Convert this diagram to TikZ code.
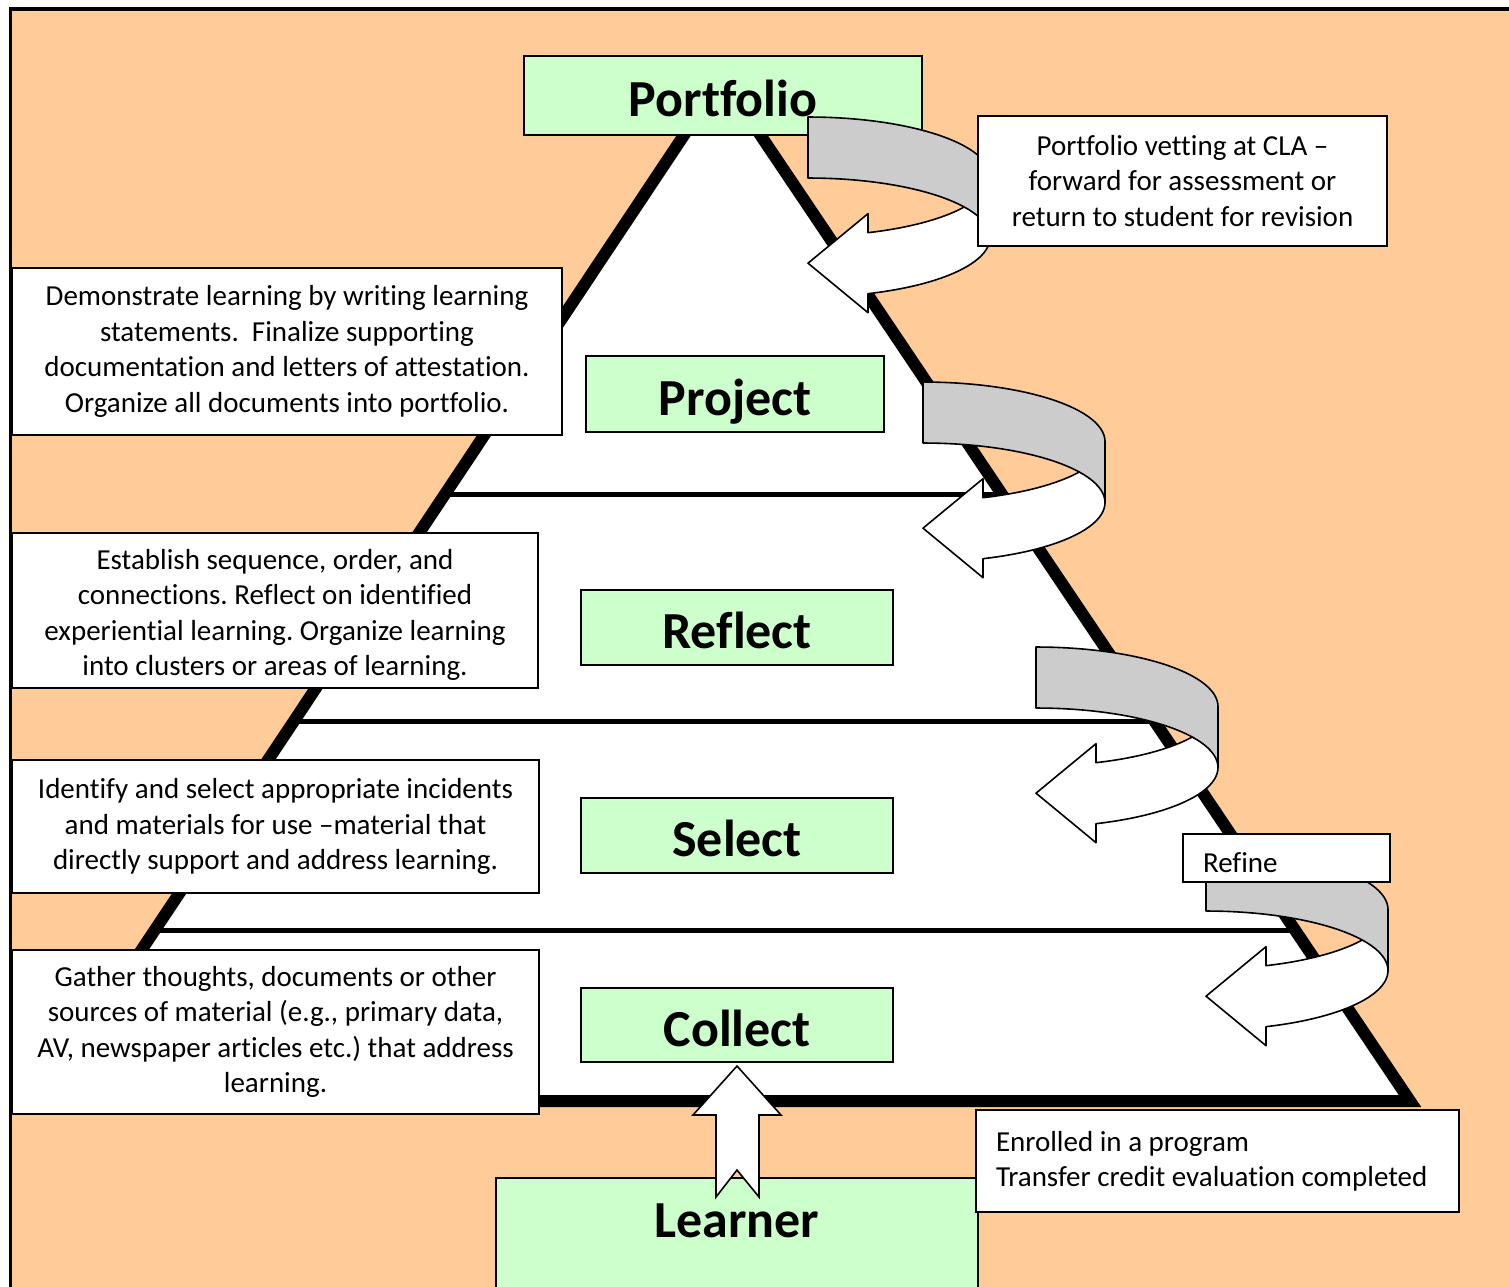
\documentclass[tikz,border=0pt]{standalone}
\usepackage{fontspec}
\setmainfont{Carlito}[Ligatures={NoCommon}]
\usetikzlibrary{calc}
\frenchspacing
\definecolor{peach}{HTML}{FFCC99}
\definecolor{mint}{HTML}{CCFFCC}
\definecolor{bandgray}{HTML}{CCCCCC}
\newcommand{\curvarrow}[2]{%
  \draw[arrowline, fill=white] plot[domain=0:70.75,samples=30] ({#1+182*cos(\x)},{#2+59.5+59.5*sin(\x)})
     -- (#1+60,#2+96.67) -- (#1,#2+146.17) -- (#1+60,#2+195.67)
     -- plot[domain=70.75:0,samples=30] ({#1+182*cos(\x)},{#2+120.5+59.5*sin(\x)}) -- cycle;
  \draw[arrowline, fill=bandgray] plot[domain=-90:0,samples=30] ({#1+182*cos(\x)},{#2+59.5+59.5*sin(\x)})
     -- plot[domain=0:-90,samples=30] ({#1+182*cos(\x)},{#2+120.5+59.5*sin(\x)}) -- cycle;
}
\begin{document}
\begin{tikzpicture}[x=1pt,y=-1pt,
  txt/.style={draw=black, line width=2pt, fill=white, font=\fontsize{29}{35.4}\selectfont, align=center, inner sep=0pt},
  ltxt/.style={draw=black, line width=2pt, fill=white, font=\fontsize{29}{35.4}\selectfont, align=flush left, inner xsep=20pt, inner ysep=0pt},
  lbl/.style={draw=black, line width=2pt, fill=mint, font=\fontsize{52}{60}\selectfont\bfseries, text height=42.5pt, text depth=0pt, inner sep=0pt},
  arrowline/.style={draw=black, line width=1.6pt, line join=round},
  blockarrow/.style={draw=black, line width=1.6pt, fill=white, line join=miter},
]
\useasboundingbox (0,0) rectangle (1509,1286);
% frame
\draw[line width=3.5pt, fill=peach] (10.5,9) rectangle (1530,1310);
% pyramid
\coordinate (apex) at (722,78);
\coordinate (bl) at (41,1101);
\coordinate (br) at (1410,1101);
\fill[white] (apex) -- (bl) -- (br) -- cycle;
\foreach \t in {0.4071,0.6290,0.8333}{
  \draw[line width=5.5pt] ($(apex)!\t!(bl)$) -- ($(apex)!\t!(br)$);
}
\draw[line width=12pt, line join=miter] (apex) -- (bl) -- (br) -- cycle;
% stage labels
\node[lbl, minimum width=398pt, minimum height=79pt] (portfolio) at (723,95.5) {Portfolio};
\node[lbl, minimum width=298pt, minimum height=76pt] (project) at (735,394) {Project};
\node[lbl, minimum width=312pt, minimum height=75pt] (reflect) at (737,627.5) {Reflect};
\node[lbl, minimum width=312pt, minimum height=75pt] (select) at (737,835.5) {Select};
\node[lbl, minimum width=312pt, minimum height=74pt] (collect) at (737,1025) {Collect};
\node[lbl, anchor=north, minimum width=482pt, text height=54pt, text depth=60pt, inner ysep=5pt] (learner) at (737,1177) {Learner};
% up block arrow from learner to collect
\coordinate (tip) at ($(collect.south)+(0,3)$);
\draw[blockarrow] (tip) -- ($(tip)+(44,49)$) -- ($(tip)+(22,49)$) -- ($(tip)+(22,131)$) -- ($(tip)+(0,104)$)
   -- ($(tip)+(-21,131)$) -- ($(tip)+(-21,49)$) -- ($(tip)+(-44,49)$) -- cycle;
% left description boxes
\node[txt, minimum width=550pt, minimum height=167pt] (demo) at (287,351.5)
  {Demonstrate learning by writing learning\\statements.\ \ Finalize supporting\\documentation and letters of attestation.\\Organize all documents into portfolio.};
\node[txt, minimum width=526pt, minimum height=155pt, text height=135pt] (establish) at (275,610.5)
  {Establish sequence, order, and\\connections. Reflect on identified\\experiential learning. Organize learning\\into clusters or areas of learning.};
\node[txt, minimum width=527pt, minimum height=133pt] (identify) at (275.5,826.5)
  {Identify and select appropriate incidents\\and materials for use –material that\\directly support and address learning.};
\node[txt, minimum width=527pt, minimum height=164pt] (gather) at (275.5,1032)
  {Gather thoughts, documents or other\\sources of material (e.g., primary data,\\AV, newspaper articles etc.) that address\\learning.};
% curved arrows
\curvarrow{808}{117}
\curvarrow{923}{382}
\curvarrow{1036}{647}
\curvarrow{1206}{850}
% right boxes
\node[txt, minimum width=409pt, minimum height=130pt] (vetting) at (1182.5,181)
  {Portfolio vetting at CLA –\\forward for assessment or\\return to student for revision};
\node[ltxt, text width=167pt, minimum height=48pt, text height=28pt, text depth=0pt] (refine) at (1286.5,858) {Refine};
\node[ltxt, text width=443pt, minimum height=102pt] (enrolled) at (1217.5,1161)
  {Enrolled in a program\\Transfer credit evaluation completed};
\end{tikzpicture}
\end{document}
